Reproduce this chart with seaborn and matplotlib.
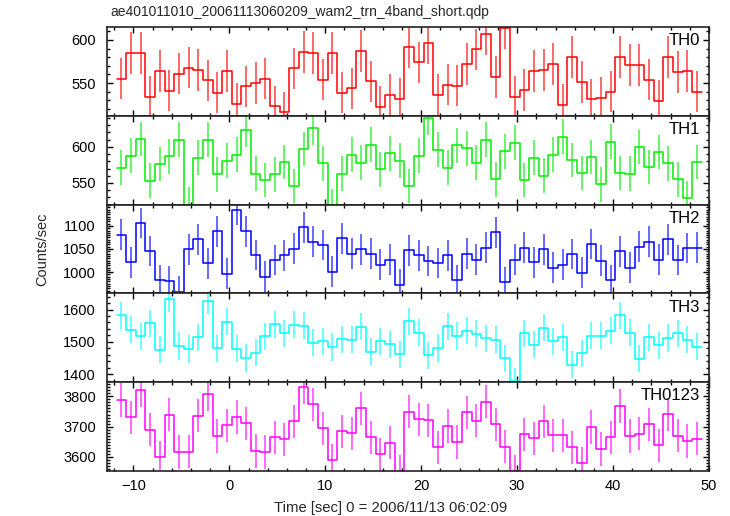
import numpy as np
import pandas as pd
import seaborn as sns
import matplotlib.pyplot as plt
from matplotlib.ticker import MultipleLocator

# bin centres (1 s bins) and the five light curves
time = np.arange(-11.25, 49.0, 1.0)

th0 = [555, 585, 585, 534, 564, 541, 561, 568, 565, 553,
       539, 564, 526, 546, 550, 555, 523, 516, 567, 586,
       585, 554, 585, 539, 544, 587, 552, 522, 536, 532,
       592, 574, 596, 536, 548, 547, 572, 589, 607, 557,
       614, 534, 542, 564, 565, 572, 525, 580, 551, 531,
       533, 540, 580, 571, 571, 554, 529, 580, 563, 564, 540]
th1 = [571, 588, 611, 553, 576, 587, 610, 520, 585, 610,
       562, 581, 589, 624, 563, 554, 562, 579, 546, 597,
       626, 577, 517, 563, 589, 578, 603, 569, 591, 581,
       546, 588, 640, 596, 571, 602, 598, 578, 610, 555,
       594, 606, 554, 585, 560, 589, 614, 582, 564, 586,
       548, 607, 564, 563, 600, 572, 593, 577, 555, 529, 579]
th2 = [1081, 1021, 1106, 1046, 983, 981, 958, 1049, 1071, 1019,
       1088, 997, 1134, 1088, 1037, 990, 1026, 1036, 1051, 1097,
       1066, 1059, 1001, 1073, 1040, 1049, 1040, 1016, 1027, 973,
       1047, 1036, 1024, 1020, 1036, 983, 1040, 1027, 1053, 1086,
       978, 1027, 1053, 1021, 1049, 1010, 1016, 1039, 999, 1061,
       1025, 982, 1045, 1010, 1055, 1066, 1027, 1071, 1026, 1052, 1053]
th3 = [1582, 1538, 1517, 1557, 1476, 1633, 1487, 1478, 1514, 1628,
       1480, 1562, 1479, 1450, 1466, 1517, 1554, 1526, 1553, 1550,
       1497, 1502, 1484, 1508, 1506, 1547, 1470, 1502, 1493, 1461,
       1563, 1528, 1459, 1481, 1548, 1518, 1534, 1525, 1511, 1507,
       1449, 1378, 1526, 1491, 1544, 1502, 1514, 1429, 1465, 1519,
       1519, 1535, 1582, 1528, 1448, 1514, 1490, 1512, 1527, 1507, 1485]
th0123 = [3788, 3731, 3821, 3690, 3598, 3739, 3616, 3617, 3736, 3808,
          3669, 3704, 3732, 3711, 3619, 3616, 3664, 3658, 3718, 3830,
          3774, 3694, 3588, 3684, 3678, 3761, 3664, 3608, 3647, 3550,
          3749, 3724, 3721, 3631, 3702, 3649, 3747, 3719, 3782, 3708,
          3634, 3552, 3674, 3661, 3718, 3671, 3671, 3632, 3578, 3699,
          3626, 3664, 3768, 3669, 3676, 3707, 3638, 3741, 3670, 3652, 3660]

# 1-sigma errors per band
errors = [24, 24, 33, 42, 55]

bands = ['TH0', 'TH1', 'TH2', 'TH3', 'TH0123']
series = [th0, th1, th2, th3, th0123]
colors = ['#ff0000', '#00ee00', '#0000ff', '#00ffff', '#ff00ff']
ylims = [(512, 615), (520, 643), (954, 1146), (1375, 1650), (3553, 3847)]
ymajor = [50, 50, 50, 100, 100]
yminor = [10, 10, 5, 20, 10]

sns.set_theme(style='ticks')
plt.rcParams['font.family'] = ['Liberation Sans', 'DejaVu Sans']

fig, axes = plt.subplots(5, 1, figsize=(7.3, 5.16), dpi=100, sharex=True,
                         gridspec_kw={'hspace': 0})
fig.subplots_adjust(left=107 / 730, right=709 / 730, top=1 - 27 / 516,
                    bottom=1 - 471 / 516)

for ax, name, vals, err, c, yl, mj, mn in zip(axes, bands, series, errors,
                                               colors, ylims, ymajor, yminor):
    df = pd.DataFrame({'time': time, 'rate': vals})
    sns.histplot(data=df, x='time', weights='rate', binwidth=1.0,
                 binrange=(time[0] - 0.5, time[-1] + 0.5),
                 element='step', fill=False, color=c, linewidth=1.1, ax=ax)
    v = np.array(vals)
    ax.vlines(time, v - err, v + err, color=c, linewidth=1.1, alpha=0.75)
    ax.set_xlim(-12.75, 50)
    ax.set_ylim(*yl)
    ax.set_ylabel('')
    ax.set_xlabel('')
    ax.xaxis.set_major_locator(MultipleLocator(10))
    ax.xaxis.set_minor_locator(MultipleLocator(2))
    ax.yaxis.set_major_locator(MultipleLocator(mj))
    ax.yaxis.set_minor_locator(MultipleLocator(mn))
    ax.tick_params(which='both', direction='in', top=True, right=True,
                   labelsize=10.5, colors='black', width=1)
    ax.tick_params(which='major', length=4.5)
    ax.tick_params(which='minor', length=2.5)
    ax.tick_params(axis='y', which='both', pad=8)
    ax.tick_params(axis='x', which='both', pad=6)
    for s in ax.spines.values():
        s.set_linewidth(1.2)
        s.set_color('#222222')
    ax.text(0.985, 0.93, name, transform=ax.transAxes, ha='right', va='top',
            fontsize=12, color='black')

# keep only the interior tick labels that the original shows
axes[0].set_yticks([550, 600])
axes[1].set_yticks([550, 600])
axes[2].set_yticks([1000, 1050, 1100])
axes[3].set_yticks([1400, 1500, 1600])
axes[4].set_yticks([3600, 3700, 3800])

fig.text(110 / 730, 1 - 12 / 516, 'ae401011010_20061113060209_wam2_trn_4band_short.qdp',
         ha='left', va='center', fontsize=10)
fig.text(42 / 730, 1 - 249 / 516, 'Counts/sec', rotation=90, ha='center',
         va='center', fontsize=10.5)
fig.text(391 / 730, 1 - 508 / 516, 'Time [sec] 0 = 2006/11/13 06:02:09',
         ha='center', va='center', fontsize=10.7)

fig.savefig('out.png', dpi=100)
